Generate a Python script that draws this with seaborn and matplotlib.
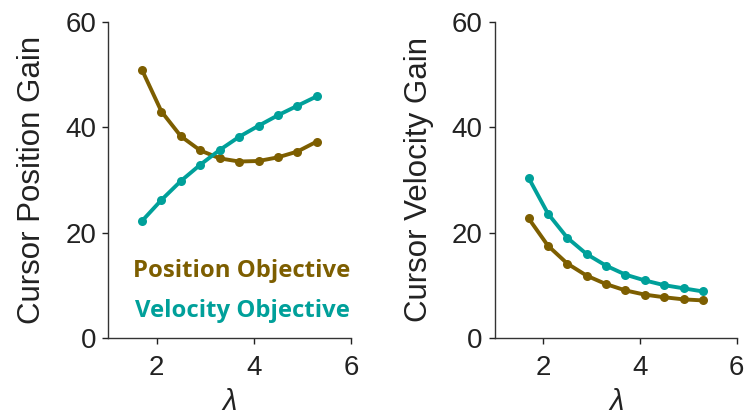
import matplotlib
matplotlib.use("Agg")
import matplotlib.pyplot as plt
import seaborn as sns
import pandas as pd

lam = [1.7, 2.1, 2.5, 2.9, 3.3, 3.7, 4.1, 4.5, 4.9, 5.3]
pos_gain_posobj = [50.9, 43.0, 38.3, 35.6, 34.1, 33.5, 33.6, 34.3, 35.4, 37.3]
pos_gain_velobj = [22.2, 26.2, 29.8, 32.9, 35.7, 38.2, 40.3, 42.3, 44.1, 45.9]
vel_gain_posobj = [22.7, 17.5, 14.1, 11.8, 10.2, 9.0, 8.2, 7.7, 7.3, 7.1]
vel_gain_velobj = [30.4, 23.6, 19.0, 15.9, 13.7, 12.0, 10.9, 10.0, 9.4, 8.8]
series_names = ["Position Objective", "Velocity Objective"]
x_ticks = [2, 4, 6]
y_ticks = [0, 20, 40, 60]

sns.set_style("ticks")
plt.rcParams['font.family'] = ['Liberation Sans', 'DejaVu Sans']
plt.rcParams['mathtext.fontset'] = 'custom'
plt.rcParams['mathtext.it'] = 'Liberation Sans:italic'

colors = {"Position Objective": "#7D5E00", "Velocity Objective": "#00A09A"}

fig = plt.figure(figsize=(7.45, 4.17), dpi=100)
ax1 = fig.add_axes([0.145, 0.19, 0.326, 0.757])
ax2 = fig.add_axes([0.664, 0.19, 0.325, 0.757])

def make_df(a, b):
    return pd.DataFrame({
        "lam": lam + lam,
        "gain": a + b,
        "obj": [series_names[0]] * len(lam) + [series_names[1]] * len(lam),
    })

df1 = make_df(pos_gain_posobj, pos_gain_velobj)
df2 = make_df(vel_gain_posobj, vel_gain_velobj)

for ax, df, ylabel in [(ax1, df1, "Cursor Position Gain"), (ax2, df2, "Cursor Velocity Gain")]:
    sns.lineplot(data=df, x="lam", y="gain", hue="obj", palette=colors, marker="o",
                 markersize=6.5, markeredgewidth=0, linewidth=2.8, ax=ax, legend=False)
    ax.set_xlim(1.0, 6.0)
    ax.set_ylim(0, 60)
    ax.set_xticks(x_ticks)
    ax.set_yticks(y_ticks)
    ax.set_xticklabels([str(t) for t in x_ticks])
    ax.set_yticklabels([str(t) for t in y_ticks])
    ax.tick_params(labelsize=20, colors="#222222", length=4.5, width=1, direction="out")
    ax.tick_params(axis="x", pad=8)
    ax.tick_params(axis="y", pad=4)
    for s in ["top", "right"]:
        ax.spines[s].set_visible(False)
    for s in ["left", "bottom"]:
        ax.spines[s].set_color("#333333")
        ax.spines[s].set_linewidth(1.0)
    ax.set_ylabel(ylabel, fontsize=22.5, color="#222222", labelpad=13)
    ax.set_xlabel(r"$\lambda$", fontsize=21, color="#222222", labelpad=5)

ax1.text(0.997, 0.212, series_names[0], transform=ax1.transAxes, ha="right", va="center",
         fontsize=17.2, fontweight="bold", color=colors[series_names[0]], family="Open Sans")
ax1.text(0.997, 0.085, series_names[1], transform=ax1.transAxes, ha="right", va="center",
         fontsize=17.2, fontweight="bold", color=colors[series_names[1]], family="Open Sans")

fig.savefig("out.png", dpi=100)
